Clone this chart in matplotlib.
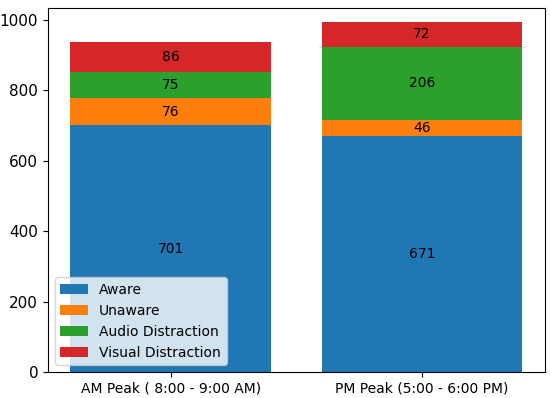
import matplotlib
matplotlib.use("Agg")
import matplotlib.pyplot as plt
import numpy as np

categories = ["AM Peak ( 8:00 - 9:00 AM)", "PM Peak (5:00 - 6:00 PM)"]
series_names = ["Aware", "Unaware", "Audio Distraction", "Visual Distraction"]
aware = [701, 671]
unaware = [76, 46]
audio = [75, 206]
visual = [86, 72]
colors = ["#1f77b4", "#ff7f0e", "#2ca02c", "#d62728"]

fig = plt.figure(figsize=(5.5, 3.98), dpi=100)
ax = fig.add_axes([0.087, 0.065, 0.904, 0.915])

x = np.arange(len(categories))
bottom = np.zeros(len(categories))
for name, vals, c in zip(series_names, [aware, unaware, audio, visual], colors):
    bars = ax.bar(x, vals, 0.8, bottom=bottom, label=name, color=c)
    ax.bar_label(bars, label_type="center", fontsize=10)
    bottom += np.array(vals)

ax.set_ylim(0, 1034)
ax.set_xticks(x)
ax.set_xticklabels(categories, fontsize=10)
ax.tick_params(axis="y", labelsize=11)
ax.legend(loc="lower left", fontsize=10)
fig.savefig("out.png", dpi=100)
